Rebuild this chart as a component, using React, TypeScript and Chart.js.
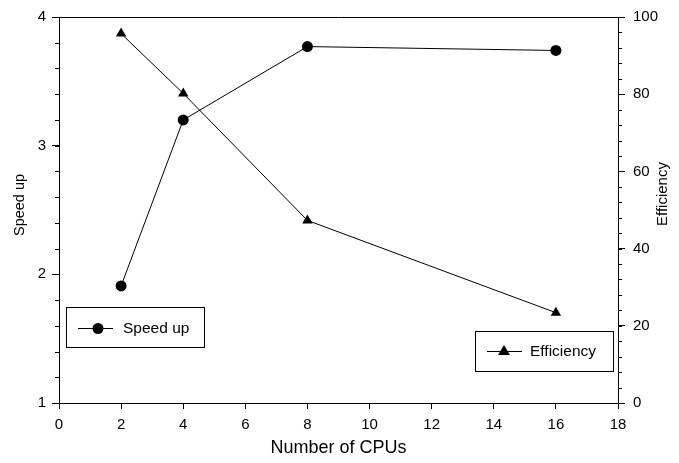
import React, { useEffect, useRef } from "react";
import { Chart, registerables } from "chart.js";

Chart.register(...registerables);

const cpus = [2, 4, 8, 16];
const speedUp = [1.91, 3.2, 3.77, 3.74];
const efficiency = [95.7, 80.2, 47.3, 23.4];
const xTicks = [0, 2, 4, 6, 8, 10, 12, 14, 16, 18];
const speedTicks = [1, 2, 3, 4];
const effTicks = [0, 20, 40, 60, 80, 100];
const xTitle = "Number of CPUs";
const speedTitle = "Speed up";
const effTitle = "Efficiency";

const FONT = "'Liberation Sans', Arial, sans-serif";

const decorPlugin = {
  id: "decor",
  afterDraw(chart: any) {
    const ctx = chart.ctx;
    const { left, right, top, bottom } = chart.chartArea;
    const ys = chart.scales.y;
    const y1 = chart.scales.y1;
    ctx.save();
    ctx.strokeStyle = "#000";
    ctx.lineWidth = 1;
    // top border
    ctx.beginPath();
    ctx.moveTo(left, top + 0.5);
    ctx.lineTo(right, top + 0.5);
    ctx.stroke();
    // minor ticks
    ctx.beginPath();
    for (let v = 1; v <= 4.0001; v += 0.2) {
      const p = Math.round(ys.getPixelForValue(v)) + 0.5;
      ctx.moveTo(left - 4, p);
      ctx.lineTo(left, p);
    }
    for (let v = 0; v <= 100; v += 4) {
      const p = Math.round(y1.getPixelForValue(v)) + 0.5;
      ctx.moveTo(right, p);
      ctx.lineTo(right + 4, p);
    }
    ctx.stroke();

    // axis titles
    ctx.fillStyle = "#000";
    ctx.textAlign = "center";
    ctx.textBaseline = "middle";
    ctx.font = `18px ${FONT}`;
    ctx.fillText(xTitle, (left + right) / 2, bottom + 45);
    ctx.save();
    ctx.font = `14.5px ${FONT}`;
    ctx.translate(20, top + 188);
    ctx.rotate(-Math.PI / 2);
    ctx.fillText(speedTitle, 0, 0);
    ctx.restore();
    ctx.save();
    ctx.font = `15px ${FONT}`;
    ctx.translate(right + 45, top + 177);
    ctx.rotate(-Math.PI / 2);
    ctx.fillText(effTitle, 0, 0);
    ctx.restore();

    // legends
    ctx.font = `15.5px ${FONT}`;
    ctx.textBaseline = "middle";
    ctx.textAlign = "left";
    ctx.strokeRect(left + 7.5, top + 290.5, 138, 40);
    ctx.beginPath();
    ctx.moveTo(left + 19, top + 311.5);
    ctx.lineTo(left + 54, top + 311.5);
    ctx.stroke();
    ctx.beginPath();
    ctx.arc(left + 39, top + 311.5, 5.5, 0, Math.PI * 2);
    ctx.fill();
    ctx.fillText(speedTitle, left + 64, top + 312);
    ctx.strokeRect(left + 416.5, top + 314.5, 138, 40);
    ctx.beginPath();
    ctx.moveTo(left + 428, top + 334.5);
    ctx.lineTo(left + 463, top + 334.5);
    ctx.stroke();
    const cx = left + 445, cy = top + 334;
    ctx.beginPath();
    ctx.moveTo(cx, cy - 6);
    ctx.lineTo(cx + 6, cy + 4);
    ctx.lineTo(cx - 6, cy + 4);
    ctx.closePath();
    ctx.fill();
    ctx.fillText(effTitle, left + 471, top + 335);
    ctx.restore();
  },
};

export default function App() {
  const ref = useRef<HTMLCanvasElement>(null);
  useEffect(() => {
    document.body.style.margin = "0";
    const canvas = ref.current!;
    const axisGrid = (len: number) => ({
      display: true,
      drawOnChartArea: false,
      drawTicks: true,
      tickLength: len,
      color: "#000",
      tickColor: "#000",
      lineWidth: 1,
    });
    const tickFont = { family: FONT, size: 15 };
    const chart = new Chart(canvas, {
      type: "line",
      data: {
        datasets: [
          {
            label: speedTitle,
            data: cpus.map((x, i) => ({ x, y: speedUp[i] })),
            yAxisID: "y",
            borderColor: "#000",
            backgroundColor: "#000",
            borderWidth: 1,
            pointStyle: "circle",
            pointRadius: 5.5,
            pointBorderWidth: 0,
            tension: 0,
          },
          {
            label: effTitle,
            data: cpus.map((x, i) => ({ x, y: efficiency[i] })),
            yAxisID: "y1",
            borderColor: "#000",
            backgroundColor: "#000",
            borderWidth: 1,
            pointStyle: "triangle",
            pointRadius: 6,
            pointBorderWidth: 0,
            tension: 0,
          },
        ],
      },
      options: {
        responsive: false,
        animation: false,
        devicePixelRatio: 1,
        layout: { padding: { top: 10, left: 0, right: 0, bottom: 0 } },
        plugins: { legend: { display: false }, tooltip: { enabled: false } },
        scales: {
          x: {
            type: "linear",
            min: 0,
            max: 18,
            afterBuildTicks: (s: any) => {
              s.ticks = xTicks.map((v) => ({ value: v }));
            },
            afterFit: (s: any) => {
              s.height = 60;
            },
            ticks: { color: "#000", font: tickFont, padding: 7 },
            grid: axisGrid(6),
            border: { display: true, color: "#000", width: 1 },
          },
          y: {
            type: "linear",
            position: "left",
            min: 1,
            max: 4,
            afterBuildTicks: (s: any) => {
              s.ticks = speedTicks.map((v) => ({ value: v }));
            },
            afterFit: (s: any) => {
              s.width = 59;
            },
            ticks: { color: "#000", font: tickFont, padding: 6 },
            grid: axisGrid(7),
            border: { display: true, color: "#000", width: 1 },
          },
          y1: {
            type: "linear",
            position: "right",
            min: 0,
            max: 100,
            afterBuildTicks: (s: any) => {
              s.ticks = effTicks.map((v) => ({ value: v }));
            },
            afterFit: (s: any) => {
              s.width = 61;
            },
            ticks: { color: "#000", font: tickFont, padding: 8 },
            grid: axisGrid(7),
            border: { display: true, color: "#000", width: 1 },
          },
        },
      },
      plugins: [decorPlugin],
    } as any);
    return () => chart.destroy();
  }, []);
  return <canvas ref={ref} width={679} height={463} style={{ display: "block" }} />;
}
